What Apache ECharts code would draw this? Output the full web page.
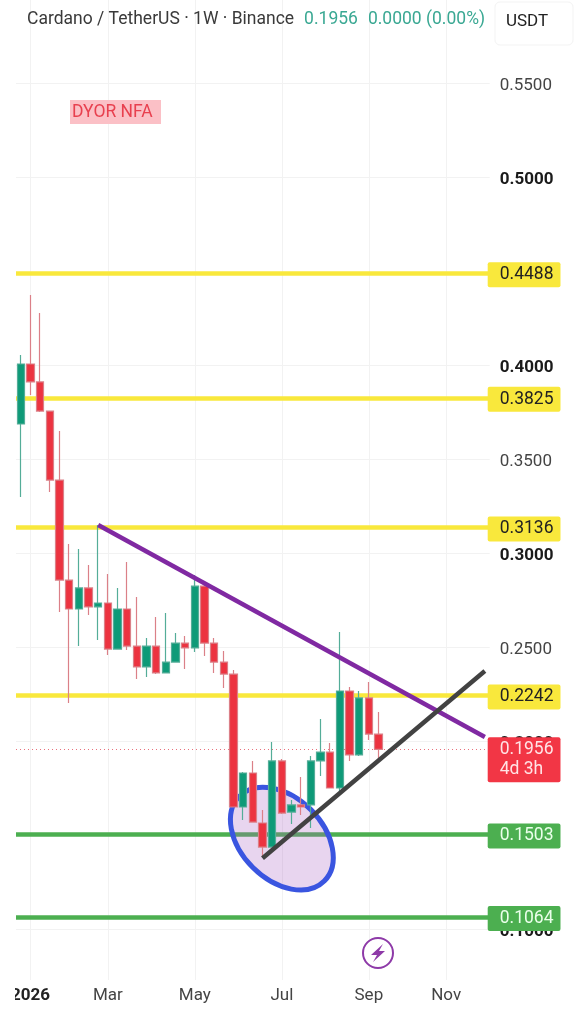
<!DOCTYPE html>
<html><head><meta charset="utf-8">
<style>html,body{margin:0;padding:0;background:#fff}#c{width:585px;height:1024px;filter:blur(0.4px)}</style>
<script src="https://cdn.jsdelivr.net/npm/echarts@6/dist/echarts.min.js"></script></head>
<body><div id="c"></div>
<script>
const weeks=["2025-12-29","2026-01-05","2026-01-12","2026-01-19","2026-01-26","2026-02-02","2026-02-09","2026-02-16","2026-02-23","2026-03-02","2026-03-09","2026-03-16","2026-03-23","2026-03-30","2026-04-06","2026-04-13","2026-04-20","2026-04-27","2026-05-04","2026-05-11","2026-05-18","2026-05-25","2026-06-01","2026-06-08","2026-06-15","2026-06-22","2026-06-29","2026-07-06","2026-07-13","2026-07-20","2026-07-27","2026-08-03","2026-08-10","2026-08-17","2026-08-24","2026-08-31","2026-09-07","2026-09-14","2026-09-21","2026-09-28","2026-10-05","2026-10-12","2026-10-19","2026-10-26","2026-11-02","2026-11-09","2026-11-16","2026-11-23","2026-11-30"];
const opens =[.3686,.4005,.3910,.3755,.3388,.2856,.2702,.2814,.2713,.2734,.2489,.2702,.2505,.2394,.2505,.2362,.2420,.2521,.2495,.2824,.2521,.2420,.2356,.1649,.1830,.1564,.1436,.1894,.1622,.1660,.1660,.1894,.1941,.1750,.2266,.1926,.2229,.2037];
const closes=[.4005,.3910,.3755,.3388,.2856,.2702,.2814,.2713,.2734,.2489,.2702,.2505,.2394,.2505,.2362,.2420,.2521,.2495,.2824,.2521,.2420,.2356,.1649,.1830,.1569,.1436,.1894,.1617,.1660,.1649,.1894,.1941,.1750,.2266,.1926,.2229,.2037,.1956];
const lows  =[.3298,.3840,.3750,.3324,.2686,.2202,.2505,.2670,.2537,.2457,.2489,.2484,.2330,.2340,.2356,.2362,.2420,.2383,.2473,.2452,.2362,.2282,.1649,.1580,.1569,.1383,.1436,.1612,.1559,.1606,.1537,.1814,.1750,.1729,.1894,.1920,.2005,.1899];
const highs =[.4053,.4372,.4277,.3755,.3649,.3048,.3021,.2936,.3149,.2888,.2814,.2952,.2766,.2548,.2660,.2681,.2574,.2559,.2883,.2840,.2548,.2479,.2378,.1835,.1894,.1633,.1995,.1904,.1686,.1809,.1920,.2117,.1989,.2580,.2287,.2266,.2314,.2154];
const yellowLevels=[.4488,.3825,.3136,.2242];
const greenLevels=[.1503,.1064];
const lastPrice=.1956;
const countdown="4d 3h";
const priceTicks=[.55,.5,.4,.35,.3,.25,.2,.15,.1];
const boldTicks=[.5,.4,.3,.2,.1];
const tickDates=["2026-01-05","2026-03-02","2026-05-04","2026-07-06","2026-09-07","2026-11-02"];
const tickTexts=["2026","Mar","May","Jul","Sep","Nov"];
const purpleLine=[[8,.3149],[48,.2021]];
const blackLine=[[25,.1377],[48,.2372]];
const ellipseCentre=[[27,.1481]];

const ohlc=opens.map((o,i)=>[o,closes[i],lows[i],highs[i]]);
const font='Roboto';
function tag(v,bg,fg,text){
  return {yAxis:v,lineStyle:{color:bg,width:4.5,type:'solid',opacity:1},
    label:{show:true,position:'end',distance:0,offset:[-2,1.5],formatter:text||v.toFixed(4),backgroundColor:bg,color:fg,
      fontFamily:font,fontSize:17.5,lineHeight:19,padding:[4,7,2,12],borderRadius:2}};
}
const chart=echarts.init(document.getElementById('c'),null,{renderer:'canvas'});
chart.setOption({
  animation:false,backgroundColor:'#fff',
  title:{left:27,top:11,padding:0,text:'{a|Cardano / TetherUS · 1W · Binance}  {b|'+lastPrice.toFixed(4)+'}  {b|0.0000 (0.00%)}',
    textStyle:{fontWeight:'normal',rich:{a:{fontFamily:font,fontSize:17.5,fontWeight:'normal',color:'#3a3a3a'},b:{fontFamily:font,fontSize:17.5,fontWeight:'normal',color:'#3aa893'}}}},
  grid:{left:16,right:95.3,top:0,bottom:44},
  xAxis:{type:'category',data:weeks,boundaryGap:true,
    axisLine:{show:false},axisTick:{show:false},
    splitLine:{show:true,alignWithLabel:true,interval:(i,v)=>tickDates.includes(v),lineStyle:{color:'#f2f2f2',width:1}},
    axisLabel:{interval:(i,v)=>tickDates.includes(v),margin:7,fontFamily:font,fontSize:17,color:'#444',
      formatter:v=>{const t=tickTexts[tickDates.indexOf(v)];return t==='2026'?'{b|'+t+'}':t;},
      rich:{b:{fontFamily:font,fontSize:17,fontWeight:'bold',color:'#222'}}}},
  yAxis:{type:'value',position:'right',min:0.0729,max:0.5941,scale:true,
    axisLine:{show:false},
    axisTick:{show:false,customValues:priceTicks},
    splitLine:{show:true,lineStyle:{color:'#f2f2f2',width:1}},
    axisLabel:{customValues:priceTicks,margin:10,padding:[5,0,0,0],fontFamily:font,fontSize:17,color:'#444',
      formatter:v=>{const t=v.toFixed(4);return boldTicks.some(b=>Math.abs(b-v)<1e-6)?'{b|'+t+'}':t;},
      rich:{b:{fontFamily:font,fontSize:17,fontWeight:'bold',color:'#1a1a1a'}}}},
  series:[
    {type:'line',name:'levels',data:[],z:1,silent:true,
      markLine:{silent:true,symbol:'none',z:1,animation:false,precision:4,
        data:[
          ...yellowLevels.map(v=>tag(v,'#f9e83c','#222')),
          ...greenLevels.map(v=>tag(v,'#4caf50','#eaffea')),
          {yAxis:lastPrice,lineStyle:{color:'#e8707c',width:1,type:[1,3],opacity:1},
           label:{show:true,position:'end',distance:0,formatter:lastPrice.toFixed(4)+'\n'+countdown,offset:[-2,10.5],
             backgroundColor:'#f23645',color:'#ffe3e5',fontFamily:font,fontSize:17.5,lineHeight:20,padding:[3,7,2,12],borderRadius:2}}
        ]}},
    {type:'custom',name:'zone',z:2,silent:true,data:ellipseCentre,coordinateSystem:'cartesian2d',clip:false,
      renderItem:(p,api)=>{const c=api.coord([api.value(0),api.value(1)]);
        return {type:'ellipse',x:c[0],y:c[1],rotation:-Math.PI/4,
          shape:{cx:0,cy:0,rx:60,ry:41},
          style:{fill:'rgba(170,100,195,0.27)',stroke:'#3a55e0',lineWidth:5}};}},
    {type:'candlestick',name:'ADAUSDT',z:3,silent:true,barWidth:8,data:ohlc,
      itemStyle:{color:'#0e9a78',color0:'#ec3340',borderColor:'#54ad98',borderColor0:'#db8088',borderWidth:1.2}},
    {type:'line',name:'resistance',z:4,silent:true,data:purpleLine,symbol:'none',lineStyle:{color:'#8029a2',width:4.5}},
    {type:'line',name:'support',z:4,silent:true,data:blackLine,symbol:'none',lineStyle:{color:'#424242',width:4.5}}
  ],
  graphic:[
    {type:'rect',z:100,shape:{x:0,y:0,width:15,height:1024},style:{fill:'#fff'}},
    {type:'rect',z:100,shape:{x:495,y:2,width:78,height:43,r:5},style:{fill:'#fff',stroke:'#f3f3f3',lineWidth:1}},
    {type:'text',z:101,x:506,y:13,style:{text:'USDT',fontFamily:font,fontSize:17,fill:'#222'}},
    {type:'rect',z:100,shape:{x:70,y:100,width:91,height:24},style:{fill:'#fbc0c6'}},
    {type:'text',z:101,x:72,y:104,style:{text:'DYOR NFA',fontFamily:font,fontSize:17.5,fill:'#e8404f'}},
    {type:'circle',z:100,shape:{cx:378,cy:953,r:15},style:{fill:'#fff',stroke:'#8e3aa8',lineWidth:2}},
    {type:'polygon',z:101,shape:{points:[[383,944],[371,955],[377,955],[373,962],[385,951],[379,951]]},style:{fill:'#8e3aa8'}}
  ]
});
</script></body></html>
